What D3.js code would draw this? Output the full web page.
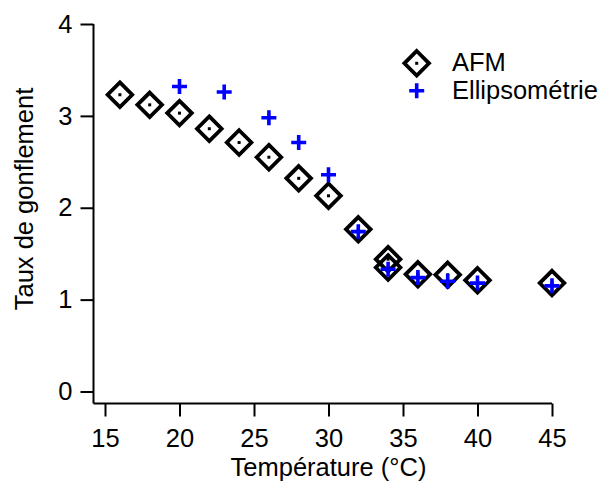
<!DOCTYPE html>
<html><head><meta charset="utf-8">
<script src="https://cdn.jsdelivr.net/npm/d3@7"></script>
<style>body{margin:0;background:#fff}svg{display:block}text{font-family:Arial,"Liberation Sans",sans-serif;fill:#000}</style>
</head><body>
<svg id="c" width="602" height="485"></svg>
<script>
const afmT = [16, 18, 20, 22, 24, 26, 28, 30, 32, 34, 34, 36, 38, 40, 45];
const afmV = [3.23, 3.12, 3.03, 2.86, 2.71, 2.55, 2.32, 2.13, 1.765, 1.44, 1.35, 1.275, 1.27, 1.21, 1.18];
const ellT = [20, 23, 26, 28, 30, 32, 34, 36, 38, 40, 45];
const ellV = [3.32, 3.26, 2.98, 2.71, 2.36, 1.74, 1.33, 1.24, 1.20, 1.18, 1.15];
const xTicks = [15, 20, 25, 30, 35, 40, 45];
const yTicks = [0, 1, 2, 3, 4];
const xTitle = "Température (°C)";
const yTitle = "Taux de gonflement";
const legendLabels = ["AFM", "Ellipsométrie"];

const FS = 25.5;
const svg = d3.select("#c");
const x = d3.scaleLinear().domain([15, 45]).range([105, 552]);
const y = d3.scaleLinear().domain([0, 4]).range([391.5, 24]);
const axisX = 93.5, axisY = 403.5;

// axes
const gx = svg.append("g").attr("transform", `translate(0,${axisY})`)
  .call(d3.axisBottom(x).tickValues(xTicks).tickFormat(d3.format("d")).tickSize(13).tickPadding(12).tickSizeOuter(0));
gx.select(".domain").attr("d", `M${axisX},0H${x(45)}`);
const gy = svg.append("g").attr("transform", `translate(${axisX},0)`)
  .call(d3.axisLeft(y).tickValues(yTicks).tickFormat(d3.format("d")).tickSize(13).tickPadding(8).tickSizeOuter(0));
gy.select(".domain").attr("d", `M0,${y(4)}V${axisY}`);
svg.selectAll(".domain, .tick line").attr("stroke", "#000").attr("stroke-width", 2);
svg.selectAll(".tick text").attr("font-size", FS).attr("fill", "#000")
  .attr("font-family", "Arial, 'Liberation Sans', sans-serif");

svg.append("text").attr("x", (x(15) + x(45)) / 2).attr("y", 476).attr("text-anchor", "middle")
  .attr("font-size", FS).attr("fill", "#000").text(xTitle);
svg.append("text").attr("transform", `translate(33,199) rotate(-90)`)
  .attr("text-anchor", "middle").attr("font-size", FS).attr("fill", "#000").text(yTitle);

const dh = 12.3;
const diamond = `M0,${-dh}L${dh},0L0,${dh}L${-dh},0Z`;
function drawDiamond(g, cx, cy) {
  g.append("path").attr("d", diamond).attr("transform", `translate(${cx},${cy})`)
    .attr("fill", "none").attr("stroke", "#000").attr("stroke-width", 3.8);
  g.append("rect").attr("x", cx - 1.5).attr("y", cy - 1.5).attr("width", 3).attr("height", 3).attr("fill", "#000");
}
const ch = 7.5;
function drawCross(g, cx, cy) {
  g.append("path").attr("d", `M${-ch},0H${ch}M0,${-ch}V${ch}`).attr("transform", `translate(${cx},${cy})`)
    .attr("stroke", "#0000ff").attr("stroke-width", 3.6).attr("fill", "none");
}
const gd = svg.append("g");
afmT.forEach((t, i) => drawDiamond(gd, x(t), y(afmV[i])));
const gc = svg.append("g");
ellT.forEach((t, i) => drawCross(gc, x(t), y(ellV[i])));

// legend
const lg = svg.append("g");
drawDiamond(lg, 416.7, 63.3);
drawCross(lg, 416.7, 90.7);
lg.append("text").attr("x", 452).attr("y", 71).attr("font-size", FS).attr("fill", "#000").text(legendLabels[0]);
lg.append("text").attr("x", 452).attr("y", 98.5).attr("font-size", FS).attr("fill", "#000").text(legendLabels[1]);
</script>
</body></html>
